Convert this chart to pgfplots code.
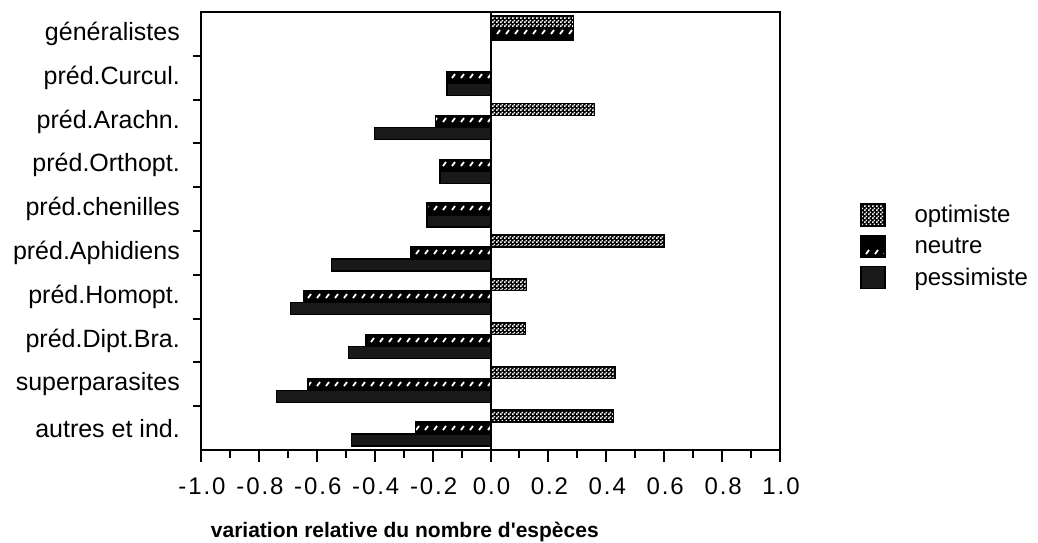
\documentclass[border=0pt]{standalone}
\usepackage{pgfplots}
\pgfplotsset{compat=1.18}
\usepackage{fontspec}
\setmainfont{Liberation Sans}
\newfontfamily\tickfont{Liberation Sans}[LetterSpace=8]
\usetikzlibrary{patterns}

\pgfdeclarepatternformonly{checker}{\pgfpointorigin}{\pgfpoint{4pt}{4pt}}{\pgfpoint{4pt}{4pt}}{%
  \pgfpathrectangle{\pgfpoint{0.1pt}{0.1pt}}{\pgfpoint{1.8pt}{1.8pt}}%
  \pgfpathrectangle{\pgfpoint{2.1pt}{2.1pt}}{\pgfpoint{1.8pt}{1.8pt}}%
  \pgfusepath{fill}}
\pgfdeclarepatternformonly{slashes}{\pgfpoint{-1pt}{-1pt}}{\pgfpoint{10pt}{23pt}}{\pgfpoint{9pt}{22pt}}{%
  \pgfsetlinewidth{1.8pt}%
  \pgfpathmoveto{\pgfpoint{2pt}{2pt}}%
  \pgfpathlineto{\pgfpoint{5pt}{6pt}}%
  \pgfusepath{stroke}}

\pgfplotsset{mylegend/.style={legend image code/.code={\draw[##1] (0pt,-11pt) rectangle (24pt,11pt);}}}

\begin{document}
\begin{tikzpicture}
\useasboundingbox (0,0) rectangle (1038pt,542pt);
\begin{axis}[
  at={(201pt,92pt)}, anchor=south west,
  scale only axis, width=579pt, height=438pt,
  xbar, bar width=12pt,
  xmin=-1, xmax=1, ymin=-0.5, ymax=9.5,
  xtick={-1,-0.8,...,1.01},
  minor x tick num=1,
  ytick={0,...,9},
  yticklabels={autres et ind., superparasites, préd.Dipt.Bra., préd.Homopt., préd.Aphidiens, préd.chenilles, préd.Orthopt., préd.Arachn., préd.Curcul., généralistes},
  minor ytick={0.5,1.5,...,8.5},
  major y tick style={draw=none},
  xtick pos=left, ytick pos=left,
  tick align=outside,
  major tick length=12pt, minor tick length=8pt,
  tick style={line width=2pt, black},
  axis line style={line width=2.4pt},
  /pgf/number format/assume math mode=true,
  xticklabel={\pgfmathprintnumber[fixed, fixed zerofill, precision=1]{\tick}},
  xticklabel style={font=\tickfont\fontsize{24}{26}\selectfont, inner sep=2pt, yshift=-14pt, xshift=1pt},
  yticklabel style={font=\fontsize{25}{27}\selectfont, anchor=east, inner sep=0pt, xshift=-9pt},
  xlabel={variation relative du nombre d\textquotesingle espèces},
  xlabel style={at={(axis description cs:0.352,-0.186)}, anchor=center, font=\fontsize{21}{24}\selectfont\bfseries},
  legend style={at={(axis description cs:1.138,0.564)}, anchor=north west, draw=none, fill=none,
    font=\fontsize{24}{26}\selectfont, row sep=8pt, inner sep=0pt, nodes={inner sep=1pt},
    /tikz/every odd column/.append style={column sep=28pt}},
  legend cell align=left,
]
\addplot[bar shift=12pt, draw=black, line width=1.4pt, fill=black, postaction={pattern=checker, pattern color=white}, mylegend]
  coordinates {(0.425,0) (0.43,1) (0.12,2) (0.125,3) (0.60,4) (0,5) (0,6) (0.36,7) (0,8) (0.287,9)};
\addplot[bar shift=0pt, draw=black, line width=1.4pt, fill=black, postaction={pattern=slashes, pattern color=white}, mylegend]
  coordinates {(-0.26,0) (-0.63,1) (-0.43,2) (-0.645,3) (-0.275,4) (-0.22,5) (-0.175,6) (-0.19,7) (-0.15,8) (0.287,9)};
\addplot[bar shift=-12pt, draw=black, line width=1.4pt, fill=black!90, mylegend]
  coordinates {(-0.48,0) (-0.74,1) (-0.49,2) (-0.69,3) (-0.55,4) (-0.22,5) (-0.175,6) (-0.40,7) (-0.15,8) (0,9)};
\legend{optimiste, neutre, pessimiste}
\draw[line width=2pt] (axis cs:0,-0.5) -- (axis cs:0,9.5);
\end{axis}
\end{tikzpicture}
\end{document}
